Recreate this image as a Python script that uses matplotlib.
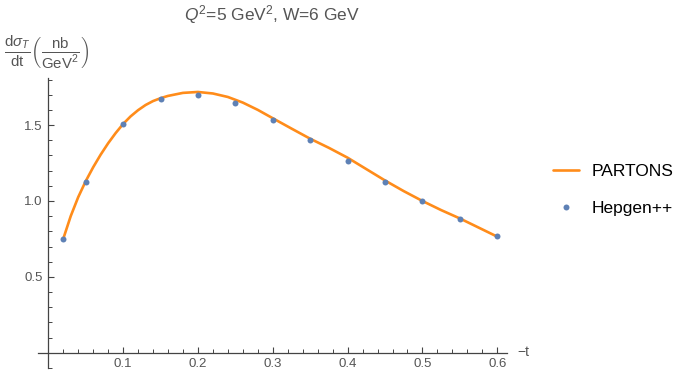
import matplotlib
matplotlib.use("Agg")
import matplotlib.pyplot as plt
from matplotlib.ticker import MultipleLocator, FixedLocator

plt.rcParams['font.family'] = ['Liberation Sans', 'DejaVu Sans']
plt.rcParams['mathtext.fontset'] = 'custom'
plt.rcParams['mathtext.rm'] = 'Liberation Sans'
plt.rcParams['mathtext.it'] = 'Liberation Sans:italic'
plt.rcParams['mathtext.bf'] = 'Liberation Sans:bold'

# PARTONS curve
t_curve = [0.02, 0.03, 0.04, 0.05, 0.06, 0.07, 0.08, 0.09, 0.10, 0.11, 0.12, 0.13,
           0.14, 0.15, 0.16, 0.18, 0.20, 0.22, 0.24, 0.26, 0.28, 0.30, 0.325, 0.35,
           0.375, 0.40, 0.425, 0.45, 0.475, 0.50, 0.525, 0.55, 0.575, 0.60]
v_curve = [0.75, 0.90, 1.025, 1.13, 1.222, 1.305, 1.38, 1.447, 1.507, 1.557, 1.598, 1.632,
           1.658, 1.677, 1.692, 1.712, 1.718, 1.708, 1.685, 1.648, 1.60, 1.545, 1.477, 1.41,
           1.35, 1.285, 1.21, 1.135, 1.065, 1.00, 0.94, 0.885, 0.825, 0.765]

# Hepgen++ points
t_pts = [0.02, 0.05, 0.10, 0.15, 0.20, 0.25, 0.30, 0.35, 0.40, 0.45, 0.50, 0.55, 0.60]
v_pts = [0.75, 1.125, 1.507, 1.67, 1.70, 1.643, 1.533, 1.40, 1.265, 1.123, 0.998, 0.88, 0.768]

x_ticks = [0.1, 0.2, 0.3, 0.4, 0.5, 0.6]
x_labels = ['0.1', '0.2', '0.3', '0.4', '0.5', '0.6']
y_ticks = [0.5, 1.0, 1.5]
y_labels = ['0.5', '1.0', '1.5']

orange = '#FF8C1A'
blue = '#5E81B5'
gray = '#555555'

fig = plt.figure(figsize=(6.85, 3.73), dpi=100)
ax = fig.add_axes([38/685, 1 - 368/373, (507-38)/685, (368-78)/373])

ax.plot(t_curve, v_curve, color=orange, lw=1.9, label='PARTONS', zorder=2,
        solid_capstyle='round', solid_joinstyle='round')
ax.plot(t_pts, v_pts, 'o', color=blue, ms=4.3, label='Hepgen++', zorder=3,
        markeredgewidth=0)

ax.set_xlim(-0.0137, 0.613)
ax.set_ylim(-0.1, 1.81)

for s in ['top', 'right']:
    ax.spines[s].set_visible(False)
ax.spines['left'].set_position(('data', 0))
ax.spines['bottom'].set_position(('data', 0))
for s in ['left', 'bottom']:
    ax.spines[s].set_color('#444444')
    ax.spines[s].set_linewidth(0.9)

ax.xaxis.set_major_locator(FixedLocator(x_ticks))
ax.set_xticklabels(x_labels)
ax.xaxis.set_minor_locator(MultipleLocator(0.02))
ax.yaxis.set_major_locator(FixedLocator(y_ticks))
ax.set_yticklabels(y_labels)
ax.yaxis.set_minor_locator(MultipleLocator(0.1))

ax.tick_params(axis='both', which='major', direction='in', length=4.5, width=0.8,
               color='#444444', labelcolor=gray, labelsize=9.5)
ax.tick_params(axis='both', which='minor', direction='in', length=2.6, width=0.7,
               color='#444444')
ax.tick_params(axis='x', which='major', pad=4)
ax.tick_params(axis='y', which='major', pad=4)

fig.text(272/685, 1 - 15/373, r'$Q^2$=5 GeV$^2$, W=6 GeV', fontsize=12.5,
         color=gray, ha='center', va='center')

fig.text(4/685, 1 - 52/373,
         r'$\frac{\mathrm{d}\sigma_T}{\mathrm{dt}}\left(\frac{\mathrm{nb}}{\mathrm{GeV}^2}\right)$',
         fontsize=15.5, color=gray, ha='left', va='center')

fig.text(517/685, 1 - 352/373, '\u2212t', fontsize=10, color=gray,
         ha='left', va='center')

leg = fig.legend(loc='center left', bbox_to_anchor=(553/685, 1 - 190/373),
                 bbox_transform=fig.transFigure, frameon=False, fontsize=12.5,
                 handlelength=1.5, handletextpad=0.7, labelspacing=1.3,
                 borderpad=0, borderaxespad=0)

fig.savefig('out.png', dpi=100)
